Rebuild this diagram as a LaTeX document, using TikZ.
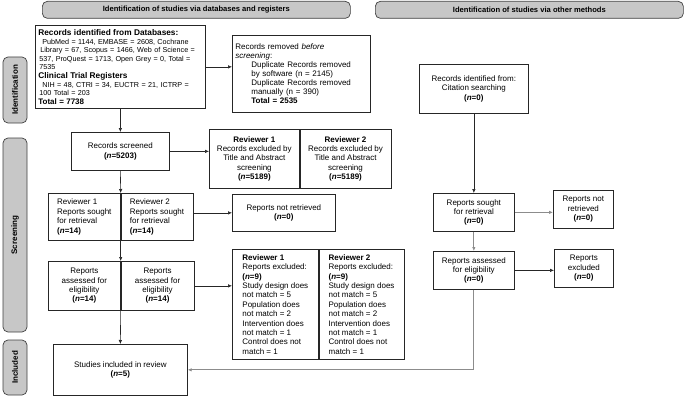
\documentclass[tikz,border=0pt]{standalone}
\usepackage{fontspec}
\setmainfont{Liberation Sans}
\usepackage{tikz}
\usetikzlibrary{arrows.meta,calc}

\tikzset{
    box/.style={draw=black!85, line width=0.7pt, font=\fontsize{8}{9.4}\selectfont, align=center, inner sep=2pt, anchor=north west},
    hdr/.style={draw=black!75, fill=black!22, rounded corners=5pt, line width=0.7pt, font=\fontsize{7.6}{8}\selectfont\bfseries, anchor=north west},
    side/.style={draw=black!75, fill=black!22, rounded corners=5pt, line width=0.7pt, font=\fontsize{8}{8}\selectfont\bfseries, rotate=90},
    link/.style={->, draw=black!85, line width=0.6pt},
    glink/.style={->, draw=black!45, line width=0.8pt},
    >={Latex[length=4pt,width=3.5pt]}
}
\newcommand{\nval}[1]{\textbf{(\textit{n}=#1)}}

\begin{document}
\begin{tikzpicture}[x=1pt, y=-1pt]
    \useasboundingbox (0,0) rectangle (685,396);
    \node[hdr, minimum width=308pt, minimum height=17pt] (hdb) at (42,1) {Identification of studies via databases and registers};
    \node[hdr, minimum width=308pt, minimum height=17pt] (hot) at (375,1) {Identification of studies via other methods};
    \node[side, minimum width=66pt, minimum height=24pt] (sid) at (15,90) {Identification};
    \node[side, minimum width=194pt, minimum height=24pt] (ssc) at (15,235) {Screening};
    \node[side, minimum width=55pt, minimum height=24pt] (sin) at (15,367.5) {Included};

    \node[box, minimum width=170pt, minimum height=83pt, text width=164pt, inner xsep=3pt, align=left, font=\fontsize{7.2}{8.6}\selectfont] (db) at (35,25)
	{{\fontsize{8.3}{8.6}\selectfont\bfseries Records identified from Databases:}\\
	\hspace*{4pt}PubMed = 1144, EMBASE = 2608, Cochrane\\
	\hspace*{2pt}Library = 67, Scopus = 1466, Web of Science =\\
	\hspace*{1pt}537, ProQuest = 1713, Open Grey = 0, Total =\\
	\hspace*{1pt}7535\\
	{\fontsize{8.3}{8.6}\selectfont\bfseries Clinical Trial Registers}\\
	\hspace*{4pt}NIH = 48, CTRI = 34, EUCTR = 21, ICTRP =\\
	\hspace*{1pt}100 Total = 203\\
	{\fontsize{8}{8.6}\selectfont\bfseries Total = 7738}};
    \node[box, minimum width=138pt, minimum height=77pt, text width=132pt, inner xsep=3pt, align=left, font=\fontsize{8}{9}\selectfont] (rem) at (232,35)
	{Records removed \textit{before}\\
	\textit{screening}:\\
	\hspace*{16pt}Duplicate Records removed\\
	\hspace*{16pt}by software (n = 2145)\\
	\hspace*{16pt}Duplicate Records removed\\
	\hspace*{16pt}manually (n = 390)\\
	\hspace*{16pt}\textbf{Total = 2535}};

    \node[box, minimum width=98pt, minimum height=38pt] (scr) at (71,132) {Records screened\\\nval{5203}};
    \node[box, minimum width=90pt, minimum height=59pt] (rt1) at (209,129) {\textbf{Reviewer 1}\\Records excluded by\\Title and Abstract\\screening\\\nval{5189}};
    \node[box, minimum width=91pt, minimum height=59pt] (rt2) at (rt1.north east) {\textbf{Reviewer 2}\\Records excluded by\\Title and Abstract\\screening\\\nval{5189}};

    \node[box, minimum width=72pt, minimum height=47pt, align=left] (rs1) at (48,193) {Reviewer 1\\Reports sought\\for retrieval\\\nval{14}};
    \node[box, minimum width=72pt, minimum height=47pt, align=left] (rs2) at (rs1.north east) {Reviewer 2\\Reports sought\\for retrieval\\\nval{14}};
    \node[box, minimum width=103pt, minimum height=37pt] (nr) at (232,194) {Reports not retrieved\\\nval{0}};

    \node[box, minimum width=72pt, minimum height=49pt] (ra1) at (48,261) {Reports\\assessed for\\eligibility\\\nval{14}};
    \node[box, minimum width=73pt, minimum height=49pt] (ra2) at (ra1.north east) {Reports\\assessed for\\eligibility\\\nval{14}};
    \node[box, minimum width=86pt, minimum height=110pt, align=left] (re1) at (232,249)
	{\textbf{Reviewer 1}\\Reports excluded:\\\nval{9}\\Study design does\\not match = 5\\Population does\\not match = 2\\Intervention does\\not match = 1\\Control does not\\match = 1};
    \node[box, minimum width=85pt, minimum height=110pt, align=left] (re2) at (re1.north east)
	{\textbf{Reviewer 2}\\Reports excluded:\\\nval{9}\\Study design does\\not match = 5\\Population does\\not match = 2\\Intervention does\\not match = 1\\Control does not\\match = 1};

    \node[box, minimum width=134pt, minimum height=51pt] (inc) at (53,344) {Studies included in review\\\nval{5}};

    \node[box, minimum width=109pt, minimum height=49pt] (cite) at (419,64) {Records identified from:\\Citation searching\\\nval{0}};
    \node[box, minimum width=81pt, minimum height=38pt] (os) at (433,193) {Reports sought\\for retrieval\\\nval{0}};
    \node[box, minimum width=60pt, minimum height=38pt] (onr) at (553,190) {Reports not\\retrieved\\\nval{0}};
    \node[box, minimum width=81pt, minimum height=38pt] (oa) at (433,251) {Reports assessed\\for eligibility\\\nval{0}};
    \node[box, minimum width=59pt, minimum height=38pt] (oe) at (554,249) {Reports\\excluded\\\nval{0}};

    \draw[link] (db.south) -- (db.south |- scr.north);
    \draw[link] (db.east) -- (db.east -| rem.west);
    \draw[link] (scr.east) -- (scr.east -| rt1.west);
    \draw[link] (scr.south) -- (rs1.north east);
    \draw[link] (nr.west -| rs2.east) -- (nr.west);
    \draw[link] (rs1.south east) -- (ra1.north east);
    \draw[link] (ra2.east) -- (ra2.east -| re1.west);
    \draw[link] (ra1.south east) -- (inc.north);
    \draw[link] (cite.south) -- (os.north);
    \draw[glink] (os.east) -- (os.east -| onr.west);
    \draw[glink] (os.south) -- (oa.north);
    \draw[link] (oa.east) -- (oa.east -| oe.west);
    \draw[glink] (oa.south) |- (inc.east);
\end{tikzpicture}
\end{document}
